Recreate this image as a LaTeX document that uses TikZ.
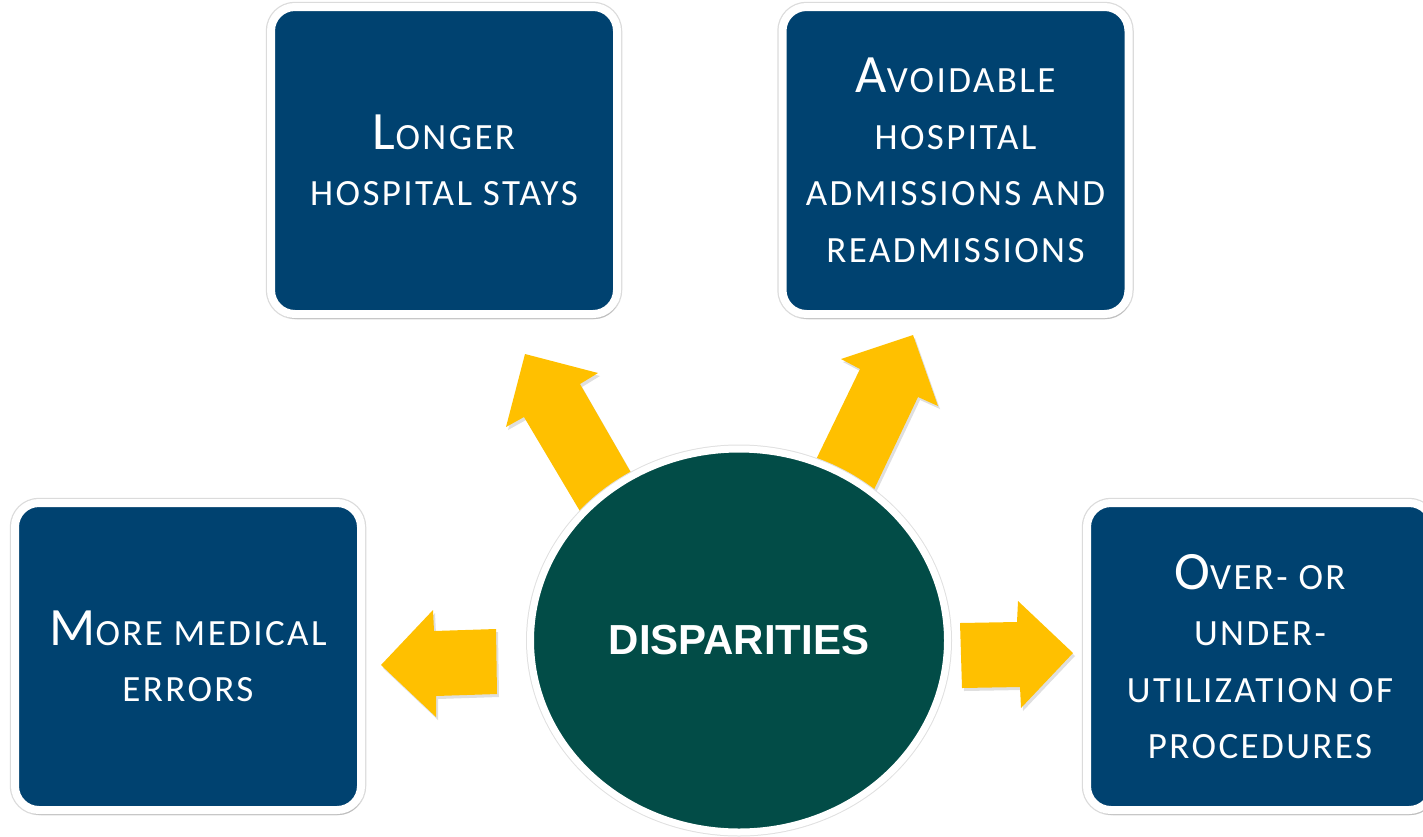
\documentclass[tikz,border=0pt]{standalone}
\usepackage{fontspec}
\setmainfont{Carlito}
\newfontfamily\boxfont[LetterSpace=6.5]{Carlito}
\newfontfamily\hubfont{Liberation Sans}
\usetikzlibrary{shapes.geometric,shadows}
\definecolor{boxblue}{RGB}{0,66,112}
\definecolor{hubgreen}{RGB}{2,76,71}
\definecolor{arrowyellow}{RGB}{255,192,0}
\newcommand\initcap[1]{{\fontsize{54}{56.5}\selectfont #1}}
\begin{document}
\begin{tikzpicture}[x=1pt,y=-1pt,
  outcome/.style={rectangle, rounded corners=24pt, fill=boxblue, draw=white,
    line width=8pt, minimum width=346pt, minimum height=307pt, text=white,
    align=center, inner sep=0pt,
    font=\boxfont\fontsize{37}{56.5}\selectfont,
    preaction={draw=black!14, line width=10.5pt},
    drop shadow={opacity=0.3, shadow xshift=2pt, shadow yshift=-5pt}},
  hub/.style={ellipse, fill=hubgreen, draw=white, line width=7pt,
    minimum width=417pt, minimum height=383pt, text=white, inner sep=0pt,
    font=\hubfont\bfseries\fontsize{42}{50}\selectfont,
    preaction={draw=black!12, line width=9pt},
    drop shadow={opacity=0.2, shadow xshift=1pt, shadow yshift=-3pt}},
  blockarrow/.style={fill=arrowyellow,
    drop shadow={opacity=0.25, shadow xshift=2pt, shadow yshift=-3pt}}]
\useasboundingbox (0,0) rectangle (1423,836);
\clip (0,0) rectangle (1423,836);

\node[outcome] (stays) at (444,160.5) {\initcap{L}ONGER\\HOSPITAL STAYS};
\node[outcome] (admit) at (955.5,160.5) {\initcap{A}VOIDABLE\\HOSPITAL\\ADMISSIONS AND\\READMISSIONS};
\node[outcome] (errors) at (188,656.5) {\initcap{M}ORE MEDICAL\\ERRORS};
\node[outcome] (util) at (1260,656.5) {\initcap{O}VER- OR\\UNDER-\\UTILIZATION OF\\PROCEDURES};

% block arrows
\fill[blockarrow] (525,354) -- (598,373) -- (580,384) -- (645,497) -- (590,528) -- (524,417) -- (506,427) -- cycle;
\fill[blockarrow] (913,335) -- (938,406) -- (918,397) -- (870,498) -- (810,472) -- (860,369) -- (841,359) -- cycle;
\fill[blockarrow] (381,665) -- (433,610) -- (434,631) -- (496,629) -- (497,694) -- (436,696) -- (436,717) -- cycle;
\fill[blockarrow] (960,623) -- (1017,622) -- (1018,601) -- (1073,653) -- (1021,708) -- (1020,687) -- (962,688) -- cycle;

\node[hub] (hub) at (739,640.5) {DISPARITIES};
\end{tikzpicture}
\end{document}
